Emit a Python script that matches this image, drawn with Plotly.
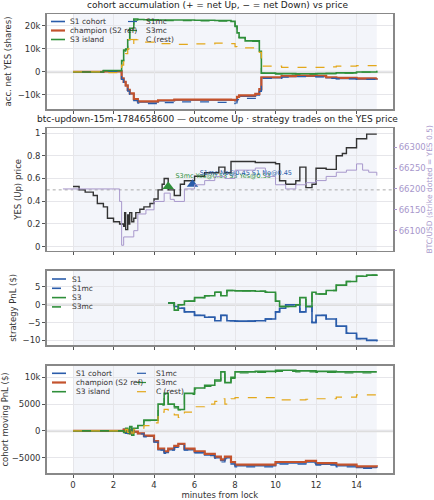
import plotly.graph_objects as go

# ---- panel 1: accumulated net YES shares ----
t1 = [0, 1.5, 2.3, 2.4, 2.5, 2.6, 2.7, 2.8, 3.0, 3.2, 3.5, 4.0, 4.2, 5.0, 6.0, 7.0, 7.8, 8.0, 8.1, 8.2, 8.5, 9.0, 9.2, 9.3, 10.0, 10.3, 11.0, 12.0, 12.5, 13.0, 14.0, 15.0]
s1_acc   = [0, 300, 300, -3000, -4500, -6000, -8000, -9500, -12000, -13000, -13000, -13000, -12500, -12200, -12200, -12200, -12300, -12500, -11000, -10500, -10500, -10000, -8000, -2500, -2500, -2000, -1800, -1900, -2500, -2800, -3000, -2900]
ch_acc   = [0, 300, 300, -2800, -4300, -5800, -7800, -9300, -11800, -12800, -12800, -12800, -12300, -12000, -12000, -12000, -12100, -12300, -10800, -10200, -10200, -9500, -7500, -2300, -2300, -1800, -1600, -1700, -2300, -2600, -2800, -2700]
s1mc_acc = [0, 300, 300, -3200, -4800, -6300, -8300, -9800, -12500, -13600, -13800, -13800, -13300, -13000, -13000, -13200, -13800, -13500, -12000, -11500, -11500, -10800, -8500, -2800, -2800, -2300, -2000, -2100, -2800, -3000, -3200, -3100]
s3_acc   = [0, 600, 600, 5000, 9500, 10000, 14000, 19000, 23000, 22800, 22700, 22700, 22600, 22600, 22500, 22400, 22000, 20000, 17000, 15000, 13500, 13500, 9000, -500, -700, -700, -800, -700, -600, -400, 0, 500]
s3mc_acc = [0, 600, 600, 4800, 9000, 9800, 13500, 18500, 22500, 22500, 22400, 22400, 22300, 22300, 22200, 22100, 21700, 19700, 16800, 14800, 13300, 13300, 8800, -600, -800, -800, -900, -800, -700, -500, -100, 400]
c_acc    = [0, -300, -300, 3000, 6000, 8000, 10000, 12000, 14000, 13500, 13000, 12500, 12300, 12000, 12200, 12500, 12300, 11000, 10800, 10500, 10500, 10000, 8500, 2500, 2500, 2000, 2000, 2000, 2200, 2500, 2800, 3000]

# ---- panel 2: YES price and BTC ----
t_yes = [0, 0.3, 0.6, 1.0, 1.2, 1.5, 1.7, 2.0, 2.3, 2.5, 2.55, 2.6, 2.7, 2.75, 2.8, 2.9, 3.0, 3.1, 3.3, 3.5, 3.8, 4.0, 4.2, 4.4, 4.5, 4.7, 5.0, 5.3, 5.5, 6.0, 6.5, 7.0, 7.2, 7.5, 7.8, 9.0, 10.0, 10.2, 10.5, 11.0, 11.2, 11.5, 11.8, 12.0, 12.5, 13.0, 13.3, 13.5, 14.0, 14.5, 15.0]
yes_px = [0.53, 0.5, 0.48, 0.45, 0.38, 0.35, 0.25, 0.22, 0.2, 0.18, 0.3, 0.15, 0.28, 0.2, 0.3, 0.22, 0.25, 0.3, 0.33, 0.35, 0.38, 0.42, 0.5, 0.55, 0.6, 0.5, 0.45, 0.55, 0.58, 0.62, 0.65, 0.65, 0.7, 0.65, 0.75, 0.74, 0.73, 0.58, 0.55, 0.58, 0.7, 0.52, 0.55, 0.69, 0.68, 0.8, 0.82, 0.87, 0.95, 0.99, 0.99]
t_btc = [-0.5, 0.5, 2.3, 2.4, 2.5, 3.0, 3.2, 3.6, 4.0, 4.5, 4.8, 5.0, 5.5, 6.0, 6.5, 7.0, 7.5, 8.0, 9.0, 9.5, 10.0, 10.5, 11.0, 11.5, 12.0, 12.5, 13.0, 13.5, 14.0, 14.3, 14.6, 15.0]
btc = [66200, 66200, 66170, 66065, 66085, 66100, 66140, 66150, 66170, 66190, 66175, 66170, 66200, 66210, 66220, 66230, 66225, 66245, 66250, 66230, 66210, 66200, 66210, 66215, 66220, 66230, 66240, 66245, 66260, 66245, 66240, 66232]
trade_t = [4.7, 5.9]
trade_p = [0.53, 0.55]
trade_lbl = ["S3mc Yes@0.53 S3 Yes@0.53", "S1mc No@0.45 S1 No@0.45"]

# ---- panel 3: strategy PnL ----
t_pnl = [4.7, 5.0, 5.2, 5.5, 6.0, 6.5, 7.0, 7.3, 7.6, 8.0, 9.0, 9.5, 10.0, 10.2, 10.5, 11.0, 11.2, 11.5, 11.8, 12.0, 12.5, 13.0, 13.5, 14.0, 14.5, 15.0]
s1_pnl = [0.5, -0.5, -1.0, -2.0, -3.0, -3.5, -4.5, -3.0, -4.5, -4.6, -4.5, -4.0, -2.0, -1.0, 0.0, 0.0, -2.0, -0.5, -5.0, -3.0, -4.0, -6.0, -8.0, -9.5, -10.0, -10.3]
s3_pnl = [0.5, -1.5, 0.0, 1.0, 2.0, 2.5, 3.5, 2.5, 4.0, 3.9, 3.8, 3.5, 1.0, -0.5, -0.5, 0.0, 2.0, -0.5, 3.5, 3.0, 4.0, 5.5, 6.5, 8.0, 8.3, 8.5]

# ---- panel 4: cohort moving PnL ----
t4 = [0, 2.4, 2.5, 2.6, 2.7, 2.8, 2.9, 3.0, 3.2, 3.5, 4.0, 4.2, 4.5, 4.7, 5.0, 5.2, 5.5, 6.0, 6.5, 7.0, 7.3, 7.5, 7.8, 8.0, 9.0, 10.0, 11.0, 11.5, 12.0, 13.0, 14.0, 15.0]
s1_mv   = [0, 0, 300, -400, 200, -500, 300, -200, -500, -1000, -2000, -3500, -4000, -3500, -3000, -2500, -3500, -4000, -4500, -5000, -5500, -5000, -6000, -6500, -6500, -6000, -6000, -5800, -6200, -6500, -6800, -6900]
ch_mv   = [0, 0, 250, -350, 150, -450, 250, -150, -450, -900, -1900, -3300, -3800, -3300, -2800, -2400, -3300, -3800, -4300, -4800, -5300, -4800, -5800, -6300, -6300, -5800, -5800, -5600, -6000, -6300, -6600, -6700]
s1mc_mv = [0, 0, 300, -450, 200, -550, 300, -250, -550, -1100, -2100, -3600, -4200, -3600, -3100, -2600, -3600, -4100, -4600, -5100, -5800, -5200, -6200, -6700, -6700, -6200, -6200, -6000, -6400, -6700, -7000, -7100]
s3_mv   = [0, 0, -300, 500, -500, 800, -800, 500, 1000, 2000, 2000, 5000, 7000, 5000, 4500, 4000, 7000, 8000, 8500, 9500, 11000, 9000, 10000, 11000, 11100, 11300, 11200, 11200, 11100, 11000, 11000, 11000]
s3mc_mv = [0, 0, -300, 450, -450, 750, -750, 450, 950, 1900, 1900, 4800, 6800, 4800, 4300, 3900, 6800, 7800, 8300, 9300, 10800, 8800, 9800, 10800, 10900, 11100, 11000, 11000, 10900, 10800, 10800, 10800]
c_mv    = [0, 0, -200, 300, -300, 400, -400, 300, 500, 1000, 1500, 3500, 4000, 3500, 3000, 2500, 3500, 4500, 5000, 5500, 6000, 5000, 6000, 6200, 6200, 5800, 5800, 5900, 6000, 6300, 6700, 6800]

BLUE = "#2a5caa"; RED = "#c4532d"; GREEN = "#2f8f3a"; ORANGE = "#e3a81b"
DARK = "#333333"; PURPLE = "#a898cc"
W, H = 434, 500

fig = go.Figure()

def line(x, y, color, dash="solid", width=1.6, xa="x", ya="y"):
    fig.add_trace(go.Scatter(x=x, y=y, mode="lines", line=dict(color=color, dash=dash, width=width, shape="hv"),
                             xaxis=xa, yaxis=ya, showlegend=False, hoverinfo="skip"))

# panel 1
line(t1, s1_acc, BLUE)
line(t1, ch_acc, RED, width=2.2)
line(t1, s3_acc, GREEN)
line(t1, s1mc_acc, BLUE, "dash", 1.2)
line(t1, s3mc_acc, GREEN, "dash", 1.2)
line(t1, c_acc, ORANGE, "dash", 1.2)

# panel 2
line(t_btc, btc, PURPLE, width=1.0, xa="x2", ya="y5")
line(t_yes, yes_px, DARK, width=1.4, xa="x2", ya="y2")
fig.add_trace(go.Scatter(x=trade_t, y=trade_p, mode="markers+text", text=trade_lbl, textposition="top right",
                         textfont=dict(size=6.5, color=[GREEN, BLUE]),
                         marker=dict(symbol="triangle-up", size=10, color=[GREEN, BLUE]),
                         xaxis="x2", yaxis="y2", showlegend=False, hoverinfo="skip"))

# panel 3
line(t_pnl, s1_pnl, BLUE, xa="x3", ya="y3")
line(t_pnl, s1_pnl, BLUE, "dash", 1.4, xa="x3", ya="y3")
line(t_pnl, s3_pnl, GREEN, xa="x3", ya="y3")
line(t_pnl, s3_pnl, GREEN, "dash", 1.4, xa="x3", ya="y3")

# panel 4
line(t4, s1_mv, BLUE, xa="x4", ya="y4")
line(t4, ch_mv, RED, width=2.2, xa="x4", ya="y4")
line(t4, s3_mv, GREEN, xa="x4", ya="y4")
line(t4, s1mc_mv, BLUE, "dash", 1.2, xa="x4", ya="y4")
line(t4, s3mc_mv, GREEN, "dash", 1.2, xa="x4", ya="y4")
line(t4, c_mv, ORANGE, "dash", 1.2, xa="x4", ya="y4")

XD = [46.7/W, 393/W]
doms = [[0.782, 0.972], [0.4986, 0.744], [0.31, 0.4586], [0.0534, 0.2686]]
ranges = [[-16100, 25200], [-0.035, 1.044], [-11.3, 9.55], [-7910, 12160]]
titles = ["acc. net YES (shares)", "YES (Up) price", "strategy PnL ($)", "cohort moving PnL ($)"]
tick = dict(size=8.5, color="#333")
axcommon = dict(showline=True, mirror=True, linecolor="#888", linewidth=1.5, gridcolor="#e6e6ea",
                zeroline=False, ticks="outside", ticklen=3, tickcolor="#555", tickfont=tick, automargin=False)
lay = {}
for i in range(4):
    k = "" if i == 0 else str(i+1)
    lay["xaxis"+k] = dict(axcommon, domain=XD, range=[-1.3, 15.8], anchor="y"+k, dtick=2,
                          showticklabels=(i == 3), matches=None if i == 0 else "x")
    lay["yaxis"+k] = dict(axcommon, domain=doms[i], range=ranges[i], anchor="x"+k,
                          title=dict(text=titles[i], font=dict(size=8.5, color="#333"), standoff=4))
lay["xaxis4"]["title"] = dict(text="minutes from lock", font=dict(size=8.5, color="#333"), standoff=0)
lay["yaxis"]["tickvals"] = [-10000, 0, 10000, 20000]
lay["yaxis2"]["dtick"] = 0.2
lay["yaxis3"]["tickvals"] = [-10, -5, 0, 5]
lay["yaxis4"]["tickvals"] = [-5000, 0, 5000, 10000]
lay["yaxis5"] = dict(overlaying="y2", side="right", anchor="x2", range=[66052, 66346], showgrid=False,
                     tickvals=[66100, 66150, 66200, 66250, 66300], tickformat="d", ticks="outside", ticklen=3,
                     tickcolor=PURPLE, tickfont=dict(size=8.5, color=PURPLE), showline=False, zeroline=False,
                     automargin=False,
                     title=dict(text="BTC/USD (strike dotted = YES 0.5)", font=dict(size=7.5, color=PURPLE), standoff=3))

shapes = []
for k in ["", "2", "3", "4"]:
    shapes.append(dict(type="rect", xref="x"+k, yref="y"+k+" domain", x0=0, x1=15, y0=0, y1=1,
                       fillcolor="#eef1f8", opacity=0.7, line_width=0, layer="below"))
for k in ["", "3", "4"]:
    shapes.append(dict(type="line", xref="x"+k+" domain", yref="y"+k, x0=0, x1=1, y0=0, y1=0,
                       line=dict(color="#dddddd", width=2.5), layer="below"))
shapes.append(dict(type="line", xref="x2 domain", yref="y2", x0=0, x1=1, y0=0.5, y1=0.5,
                   line=dict(color="#aaaaaa", width=1, dash="dot"), layer="below"))

annotations = [
    dict(text="cohort accumulation (+ = net Up, − = net Down) vs price", xref="paper", yref="paper",
         x=0.5, y=0.976, xanchor="center", yanchor="bottom", showarrow=False, font=dict(size=9, color="#222")),
    dict(text="btc-updown-15m-1784658600 — outcome Up · strategy trades on the YES price", xref="paper",
         yref="paper", x=0.5, y=0.748, xanchor="center", yanchor="bottom", showarrow=False,
         font=dict(size=9, color="#222")),
]

# custom compact legends: (label, color, dash, width, key_x0_px, key_x1_px, text_x_px, y_px)
legend_items = [
    ("S1 cohort", BLUE, "solid", 1.6, 51, 65, 68, 21.5),
    ("champion (S2 ref)", RED, "solid", 2.2, 51, 65, 68, 30.5),
    ("S3 island", GREEN, "solid", 1.6, 51, 65, 68, 39.5),
    ("S1mc", BLUE, "dash", 1.2, 128, 140, 144, 21.5),
    ("S3mc", GREEN, "dash", 1.2, 128, 140, 144, 30.5),
    ("C (rest)", ORANGE, "dash", 1.2, 128, 140, 144, 39.5),
    ("S1", BLUE, "solid", 1.6, 52, 66, 70, 279),
    ("S1mc", BLUE, "dash", 1.6, 52, 66, 70, 288.3),
    ("S3", GREEN, "solid", 1.6, 52, 66, 70, 297.6),
    ("S3mc", GREEN, "dash", 1.6, 52, 66, 70, 306.9),
    ("S1 cohort", BLUE, "solid", 1.6, 52, 66, 74, 373.3),
    ("champion (S2 ref)", RED, "solid", 2.2, 52, 66, 74, 382.5),
    ("S3 island", GREEN, "solid", 1.6, 52, 66, 74, 391.7),
    ("S1mc", BLUE, "dash", 1.2, 137, 150, 154, 373.3),
    ("S3mc", GREEN, "dash", 1.2, 137, 150, 154, 382.5),
    ("C (rest)", ORANGE, "dash", 1.2, 137, 150, 154, 391.7),
]
for lbl, col, dash, wd, kx0, kx1, tx, py in legend_items:
    yy = 1 - py / H
    shapes.append(dict(type="line", xref="paper", yref="paper", x0=kx0 / W, x1=kx1 / W, y0=yy, y1=yy,
                       line=dict(color=col, dash=dash, width=wd)))
    annotations.append(dict(text=lbl, xref="paper", yref="paper", x=tx / W, y=yy, xanchor="left",
                            yanchor="middle", showarrow=False, font=dict(size=7.5, color="#333")))

fig.update_layout(
    width=W, height=H, margin=dict(l=0, r=0, t=0, b=0),
    paper_bgcolor="white", plot_bgcolor="white", font=dict(family="DejaVu Sans"),
    shapes=shapes, annotations=annotations, showlegend=False, hovermode=False,
    **lay)
fig.write_html("out.html", config={"displayModeBar": False, "staticPlot": True},
               post_script="document.body.style.margin='0';document.body.style.overflow='hidden';")
